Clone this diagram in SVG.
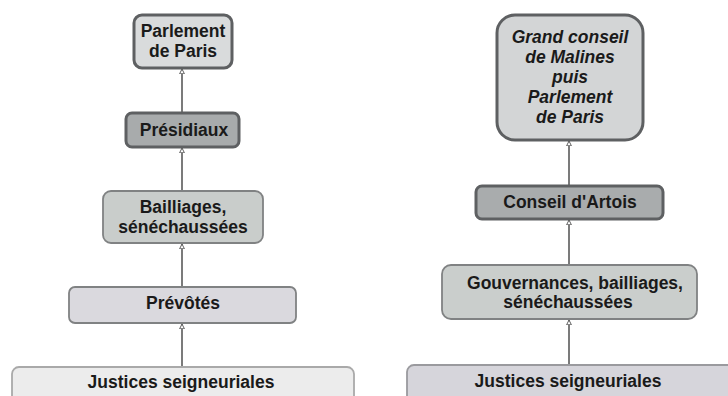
<svg xmlns="http://www.w3.org/2000/svg" width="728" height="396" viewBox="0 0 728 396">
<defs>
<style>
text{font-family:"Liberation Sans",Arial,sans-serif;font-weight:bold;font-size:17.5px;fill:#1a1a1a;text-anchor:middle}
.it{font-style:italic}
.thick{stroke:#5e6062;stroke-width:3}
.thin{stroke:#808283;stroke-width:1.8}
.edge{stroke:#5a5a5a;stroke-width:1.6;fill:none;marker-end:url(#ah)}
</style>
<marker id="ah" viewBox="0 0 10 10" refX="9" refY="5" markerWidth="6" markerHeight="6" markerUnits="userSpaceOnUse" orient="auto">
<path d="M1,1 L9,5 L1,9 Z" fill="#fff" stroke="#5a5a5a" stroke-width="1.6"/>
</marker>
</defs>
<rect width="728" height="396" fill="#fff"/>
<g id="connectors">
<line class="edge" x1="182" y1="112" x2="182" y2="69"/>
<line class="edge" x1="182" y1="190" x2="182" y2="148"/>
<line class="edge" x1="182" y1="286" x2="182" y2="244"/>
<line class="edge" x1="182" y1="366" x2="182" y2="324"/>
<line class="edge" x1="569" y1="185" x2="569" y2="141"/>
<line class="edge" x1="569" y1="264" x2="569" y2="220"/>
<line class="edge" x1="569" y1="364" x2="569" y2="320"/>
</g>
<g id="parlement">
<rect class="thick" x="134" y="15" width="98" height="53" rx="8" fill="#d9dbdc"/>
<text x="183" y="37">Parlement</text>
<text x="183" y="57">de Paris</text>
</g>
<g id="presidiaux">
<rect class="thick" x="126" y="113" width="113" height="34" rx="6" fill="#a8abac"/>
<text x="184" y="136">Présidiaux</text>
</g>
<g id="bailliages">
<rect class="thin" x="103" y="191" width="160" height="52" rx="8" fill="#c9cdcb"/>
<text x="183" y="213">Bailliages,</text>
<text x="183" y="233">sénéchaussées</text>
</g>
<g id="prevotes">
<rect class="thin" x="69" y="287" width="227" height="36" rx="6" fill="#dad9de"/>
<text x="183" y="309">Prévôtés</text>
</g>
<g id="justices-left">
<rect x="12" y="367" width="342" height="40" rx="7" fill="#ececec" stroke="#a9a9a9" stroke-width="1.8"/>
<text x="181" y="388">Justices seigneuriales</text>
</g>
<g id="grand-conseil">
<rect class="thick" x="497" y="15" width="146" height="125" rx="18" fill="#d3d5d6"/>
<text class="it" x="570" y="43">Grand conseil</text>
<text class="it" x="570" y="63">de Malines</text>
<text class="it" x="570" y="83">puis</text>
<text class="it" x="570" y="103">Parlement</text>
<text class="it" x="570" y="123">de Paris</text>
</g>
<g id="conseil-artois">
<rect class="thick" x="476" y="186" width="187" height="33" rx="6" fill="#a9acad"/>
<text x="570" y="208">Conseil d'Artois</text>
</g>
<g id="gouvernances">
<rect class="thin" x="442" y="265" width="255" height="54" rx="9" fill="#cacecc"/>
<text x="575" y="289">Gouvernances, bailliages,</text>
<text x="568" y="308">sénéchaussées</text>
</g>
<g id="justices-right">
<rect x="407" y="365" width="330" height="42" rx="7" fill="#d6d5db" stroke="#9a9a9e" stroke-width="1.8"/>
<text x="568" y="387">Justices seigneuriales</text>
</g>
</svg>
